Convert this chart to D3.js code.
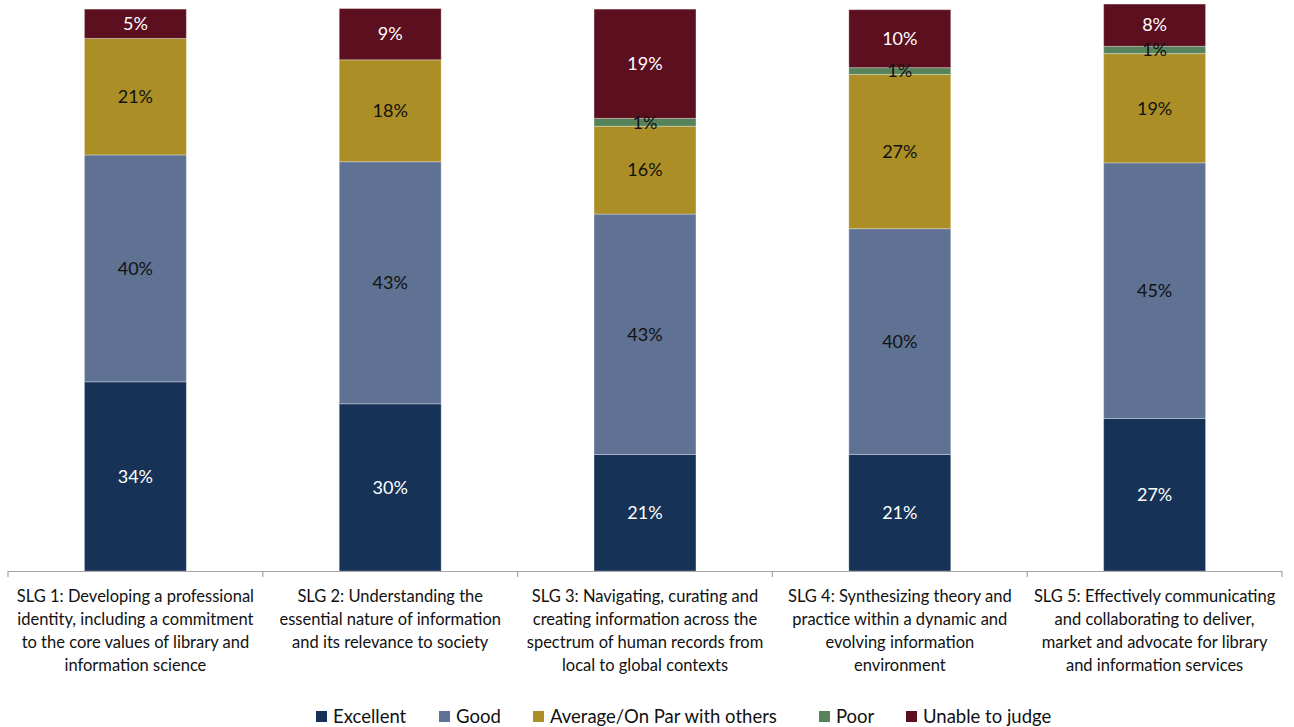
<!DOCTYPE html>
<html>
<head>
<meta charset="utf-8">
<script src="https://cdn.jsdelivr.net/npm/d3@7"></script>
<style>
  body { margin: 0; background: #fff; }
  svg text { font-family: Lato, "Open Sans", sans-serif; }
</style>
</head>
<body>
<svg id="chart"></svg>
<script>
// categories (x axis), wrapped lines as in the original
var categories = [
  ["SLG 1: Developing a professional", "identity, including a commitment", "to the core values of library and", "information science"],
  ["SLG 2: Understanding the", "essential nature of information", "and its relevance to society"],
  ["SLG 3: Navigating, curating and", "creating information across the", "spectrum of human records from", "local to global contexts"],
  ["SLG 4: Synthesizing theory and", "practice within a dynamic and", "evolving information", "environment"],
  ["SLG 5: Effectively communicating", "and collaborating to deliver,", "market and advocate for library", "and information services"]
];
var seriesNames = ["Excellent", "Good", "Average/On Par with others", "Poor", "Unable to judge"];
var seriesColors = ["#163256", "#5f7294", "#ac8e26", "#57835b", "#5c0f1e"];
var labelColors = ["#fff", "#111", "#111", "#111", "#fff"];

// percentages
var excellent = [33.6, 29.7, 20.7, 20.7, 27.1];
var good      = [40.3, 43.0, 42.7, 40.1, 45.4];
var average   = [20.7, 18.1, 15.6, 27.4, 19.4];
var poor      = [0,    0,    1.4,  1.2,  1.3];
var unable    = [5.2,  9.1,  19.4, 10.3, 7.5];

var W = 1294, H = 727;
var svg = d3.select("#chart").attr("width", W).attr("height", H);

var rows = categories.map(function(c, i) {
  return { i: i, Excellent: excellent[i], Good: good[i], "Average/On Par with others": average[i], Poor: poor[i], "Unable to judge": unable[i] };
});

var x = d3.scaleBand().domain(d3.range(categories.length)).range([8, 1282]).paddingInner(0).paddingOuter(0);
var y = d3.scaleLinear().domain([0, 100]).range([571, 8]);

var stack = d3.stack().keys(seriesNames)(rows);
var barW = x.bandwidth() * 0.4;

var groups = svg.append("g").selectAll("g")
  .data(stack).enter().append("g")
  .attr("fill", function(d, k) { return seriesColors[k]; });

groups.selectAll("rect")
  .data(function(d) { return d; })
  .enter().append("rect")
  .filter(function(d) { return d[1] - d[0] > 0; })
  .attr("x", function(d) { return x(d.data.i) + (x.bandwidth() - barW) / 2; })
  .attr("width", barW)
  .attr("y", function(d) { return y(d[1]); })
  .attr("height", function(d) { return y(d[0]) - y(d[1]); })
  .attr("stroke", "rgba(255,255,255,0.3)")
  .attr("stroke-width", 1);

// value labels
stack.forEach(function(s, k) {
  svg.append("g").selectAll("text")
    .data(s.filter(function(d) { return d[1] - d[0] > 0; }))
    .enter().append("text")
    .attr("x", function(d) { return x(d.data.i) + x.bandwidth() / 2; })
    .attr("y", function(d) { return (y(d[0]) + y(d[1])) / 2; })
    .attr("dy", "0.35em")
    .attr("text-anchor", "middle")
    .attr("font-size", 18)
    .attr("fill", labelColors[k])
    .text(function(d) { return Math.round(d[1] - d[0]) + "%"; });
});

// x axis
var axis = svg.append("g");
axis.append("line")
  .attr("x1", x.range()[0]).attr("x2", x.range()[1])
  .attr("y1", 571.5).attr("y2", 571.5)
  .attr("stroke", "#a6a6a6").attr("stroke-width", 1.2);
axis.selectAll("line.tick")
  .data(d3.range(categories.length + 1)).enter().append("line")
  .attr("class", "tick")
  .attr("x1", function(d) { return x.range()[0] + d * x.step(); })
  .attr("x2", function(d) { return x.range()[0] + d * x.step(); })
  .attr("y1", 571).attr("y2", 577)
  .attr("stroke", "#a6a6a6").attr("stroke-width", 1.2);

axis.selectAll("text.cat")
  .data(categories).enter().append("text")
  .attr("class", "cat")
  .attr("text-anchor", "middle")
  .attr("font-size", 16.5)
  .attr("fill", "#111")
  .attr("transform", function(d, i) { return "translate(" + (x(i) + x.bandwidth() / 2) + ",602)"; })
  .selectAll("tspan")
  .data(function(d) { return d; })
  .enter().append("tspan")
  .attr("x", 0)
  .attr("y", function(d, j) { return j * 23; })
  .text(function(d) { return d; });

// legend
var legendX = [316, 439, 533, 819, 906];
var legend = svg.append("g").selectAll("g")
  .data(seriesNames).enter().append("g")
  .attr("transform", function(d, k) { return "translate(" + legendX[k] + ",711)"; });
legend.append("rect")
  .attr("width", 11).attr("height", 11)
  .attr("fill", function(d, k) { return seriesColors[k]; });
legend.append("text")
  .attr("x", 17).attr("y", 5.5).attr("dy", "0.36em")
  .attr("font-size", 18.5)
  .attr("fill", "#111")
  .text(function(d) { return d; });
</script>
</body>
</html>
